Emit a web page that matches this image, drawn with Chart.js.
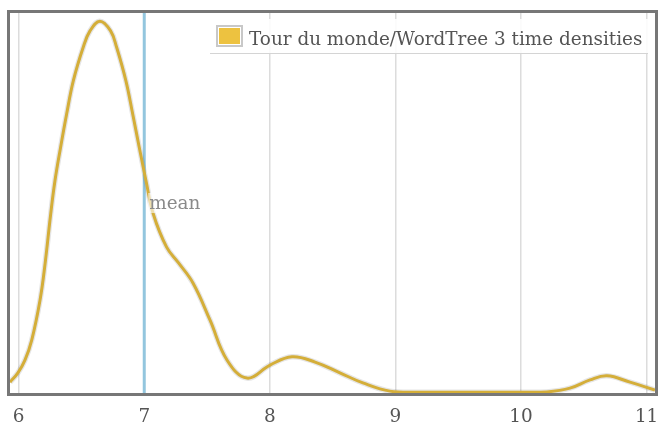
<!DOCTYPE html>
<html>
<head>
<meta charset="utf-8">
<script src="https://cdn.jsdelivr.net/npm/chart.js@4/dist/chart.umd.min.js"></script>
<style>
html,body{margin:0;padding:0;background:#fff;}
#wrap{width:658px;height:427px;position:relative;}
</style>
</head>
<body>
<div id="wrap"><canvas id="c" width="658" height="427"></canvas></div>
<script>
// ---- data ----
const seriesLabel = "Tour du monde/WordTree 3 time densities";
const timeValues = [5.931, 5.994, 6.050, 6.104, 6.170, 6.209, 6.255, 6.289, 6.334, 6.382, 6.435, 6.514, 6.568, 6.647, 6.732, 6.780, 6.854, 6.908, 6.960, 7.014, 7.072, 7.178, 7.270, 7.388, 7.523, 7.660, 7.818, 8.002, 8.176, 8.360, 8.558, 8.741, 8.956, 9.200, 9.600, 10.000, 10.206, 10.390, 10.550, 10.685, 10.868, 11.067];
const densityValues = [0.029, 0.054, 0.088, 0.142, 0.249, 0.343, 0.480, 0.569, 0.659, 0.748, 0.837, 0.927, 0.971, 0.997, 0.971, 0.927, 0.837, 0.748, 0.659, 0.569, 0.480, 0.391, 0.350, 0.295, 0.196, 0.088, 0.040, 0.075, 0.097, 0.083, 0.054, 0.027, 0.005, 0.002, 0.002, 0.002, 0.003, 0.013, 0.035, 0.046, 0.029, 0.008];
const xTickValues = [6, 7, 8, 9, 10, 11];
const meanValue = 7.0;
const meanLabel = "mean";
const xRange = [5.931, 11.067];
const yRange = [0, 1.019];

const FONT = "'DejaVu Serif', serif";
const points = timeValues.map((t, i) => ({x: t, y: densityValues[i]}));

const decorPlugin = {
  id: 'decor',
  beforeDatasetsDraw(chart) {
    const {ctx, chartArea: a, scales: {x}} = chart;
    const px = x.getPixelForValue(meanValue);
    ctx.save();
    ctx.strokeStyle = '#93c6de';
    ctx.lineWidth = 3;
    ctx.beginPath();
    ctx.moveTo(px, a.top);
    ctx.lineTo(px, a.bottom);
    ctx.stroke();
    ctx.restore();
  },
  afterDatasetsDraw(chart) {
    const {ctx, chartArea: a, scales: {x}} = chart;
    const px = x.getPixelForValue(meanValue);
    ctx.save();
    // mean label
    ctx.font = "18.4px " + FONT;
    const w = ctx.measureText(meanLabel).width;
    ctx.fillStyle = 'rgba(255,255,255,0.6)';
    ctx.fillRect(px + 4, 193, w + 2, 20);
    ctx.fillStyle = '#8a8a8a';
    ctx.textBaseline = 'alphabetic';
    ctx.fillText(meanLabel, px + 5, 209);
    // frame
    ctx.strokeStyle = '#777';
    ctx.lineWidth = 3;
    ctx.strokeRect(a.left - 1.5, a.top - 1.5, a.right - a.left + 3, a.bottom - a.top + 3);
    // legend
    const lx = 210, ly = 19, lw = 438, lh = 34;
    ctx.fillStyle = 'rgba(255,255,255,0.88)';
    ctx.fillRect(lx, ly, lw, lh);
    ctx.strokeStyle = '#d4d4d4';
    ctx.lineWidth = 1;
    ctx.beginPath();
    ctx.moveTo(lx, ly + lh + 0.5);
    ctx.lineTo(lx + lw, ly + lh + 0.5);
    ctx.stroke();
    ctx.fillStyle = '#fff';
    ctx.fillRect(216, 25, 27, 22);
    ctx.strokeStyle = '#c8c8c8';
    ctx.lineWidth = 2;
    ctx.strokeRect(217, 26, 25, 20);
    ctx.fillStyle = '#edc240';
    ctx.fillRect(219, 28, 21, 16);
    ctx.fillStyle = '#545454';
    ctx.textBaseline = 'alphabetic';
    ctx.fillText(seriesLabel, 249, 45);
    ctx.restore();
  }
};

new Chart(document.getElementById('c'), {
  type: 'line',
  data: {
    datasets: [
      {
        label: '_shadow',
        data: points,
        borderColor: 'rgba(0,0,0,0.1)',
        borderWidth: 5.5,
        pointRadius: 0,
        fill: false,
        tension: 0.4
      },
      {
        label: seriesLabel,
        data: points,
        borderColor: '#edc240',
        borderWidth: 3,
        pointRadius: 0,
        fill: false,
        tension: 0.4
      }
    ]
  },
  options: {
    responsive: false,
    animation: false,
    events: [],
    layout: {padding: {left: 10, right: 3, top: 13, bottom: 1}},
    plugins: {legend: {display: false}, tooltip: {enabled: false}},
    scales: {
      x: {
        type: 'linear',
        min: xRange[0],
        max: xRange[1],
        afterBuildTicks: axis => { axis.ticks = xTickValues.map(v => ({value: v})); },
        afterFit: axis => { axis.height = 33; axis.paddingLeft = 0; axis.paddingRight = 0; },
        grid: {color: '#dcdcdc', lineWidth: 1.5, drawTicks: false},
        border: {display: false},
        ticks: {
          padding: 13,
          color: '#545454',
          font: {family: FONT, size: 18.4},
          autoSkip: false,
          maxRotation: 0,
          callback: v => String(v)
        }
      },
      y: {
        display: false,
        min: yRange[0],
        max: yRange[1]
      }
    }
  },
  plugins: [decorPlugin]
});
</script>
</body>
</html>
